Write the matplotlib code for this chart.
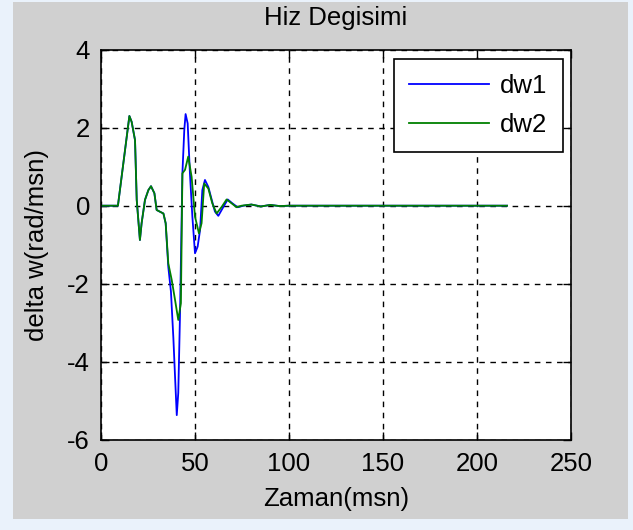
import matplotlib
matplotlib.use("Agg")
import matplotlib.pyplot as plt
from matplotlib.patches import Rectangle

# ---- data ----
t_dw1 = [0, 9, 15.1, 16.3, 18.1, 19.0, 20.7, 21.6, 23.4, 25.2, 26.6, 28.4, 29.6, 33.2,
         34.4, 35.8, 37.2, 38.5, 39.4, 40.3, 41.1, 42.0, 43.3, 44.3, 45.0, 46.1, 47.3,
         48.6, 50.0, 51.4, 52.7, 53.9, 55.3, 57.1, 58.9, 60.6, 62.4, 65.1, 67.4, 69.9,
         72.7, 75.7, 80, 85, 90, 95, 100, 216]
dw1 = [0, 0, 2.30, 2.15, 1.68, 0.15, -0.88, -0.45, 0.15, 0.40, 0.50, 0.32, -0.11, -0.20,
       -0.45, -1.57, -2.20, -3.40, -4.40, -5.37, -4.80, -2.84, 0.83, 1.94, 2.35, 2.11, 0.83,
       -0.28, -1.22, -1.05, -0.62, 0.40, 0.66, 0.48, 0.15, -0.15, -0.26, -0.03, 0.16, 0.06,
       -0.04, 0.0, 0.03, -0.02, 0.02, -0.01, 0.0, 0.0]

t_dw2 = [0, 9, 15.1, 16.3, 18.1, 19.0, 20.7, 21.6, 23.4, 25.2, 26.6, 28.4, 29.6, 33.2,
         34.4, 35.8, 37.6, 39.4, 41.1, 42.5, 43.3, 44.7, 46.4, 48.2, 50.0, 52.1, 53.5,
         54.9, 57.1, 59.2, 61.5, 64.2, 66.8, 69.5, 72.1, 74.8, 80, 85, 90, 95, 100, 216]
dw2 = [0, 0, 2.30, 2.15, 1.68, 0.15, -0.88, -0.45, 0.15, 0.40, 0.50, 0.32, -0.11, -0.20,
       -0.45, -1.48, -1.90, -2.42, -2.93, -2.50, 0.83, 0.92, 1.26, 0.74, -0.28, -0.71, -0.45,
       0.57, 0.44, 0.06, -0.20, -0.03, 0.16, 0.06, -0.04, 0.0, 0.03, -0.02, 0.02, -0.01, 0.0, 0.0]

series_labels = ["dw1", "dw2"]
x_ticks = [0, 50, 100, 150, 200, 250]
y_ticks = [-6, -4, -2, 0, 2, 4]
title = "Hiz Degisimi"
xlabel = "Zaman(msn)"
ylabel = "delta w(rad/msn)"

plt.rcParams['font.family'] = ['Liberation Sans', 'DejaVu Sans']
plt.rcParams['axes.unicode_minus'] = False
FS = 18.5

fig = plt.figure(figsize=(6.33, 5.30), dpi=100)
fig.patch.set_facecolor('#eaf2fb')
W, H = 633, 530
bg = Rectangle((13 / W, 1 - 519 / H), (628 - 13) / W, (519 - 2) / H,
               transform=fig.transFigure, facecolor='#d0d0d0',
               edgecolor='none', zorder=-10)
fig.patches.append(bg)

ax = fig.add_axes([101 / W, 1 - 439.7 / H, 470 / W, 390 / H])
ax.set_zorder(5)
ax.set_facecolor('white')
ax.plot(t_dw1, dw1, color='#0000ff', lw=1.3, label=series_labels[0])
ax.plot(t_dw2, dw2, color='#008000', lw=1.3, label=series_labels[1])

ax.set_xlim(0, 250)
ax.set_ylim(-6, 4)
ax.set_xticks(x_ticks)
ax.set_yticks(y_ticks)
ax.tick_params(direction='in', length=6, width=1, labelsize=FS, top=True, right=True)
ax.tick_params(axis='x', pad=9)
ax.tick_params(axis='y', pad=8)
ax.grid(True, color='black', linestyle=(0, (4, 4)), linewidth=1)
for s in ax.spines.values():
    s.set_linewidth(1.2)
    s.set_color('black')

ax.set_title(title, fontsize=FS, pad=18)
ax.set_xlabel(xlabel, fontsize=FS, labelpad=8)
ax.set_ylabel(ylabel, fontsize=FS, labelpad=13)

leg = ax.legend(loc='upper right', bbox_to_anchor=(0.983, 0.976), fontsize=FS,
                fancybox=False, framealpha=1, edgecolor='black', handlelength=3.1,
                handletextpad=0.45, labelspacing=0.55, borderpad=0.6, borderaxespad=0)
leg.get_frame().set_linewidth(1.2)

fig.savefig('out.png', dpi=100, facecolor=fig.get_facecolor())
